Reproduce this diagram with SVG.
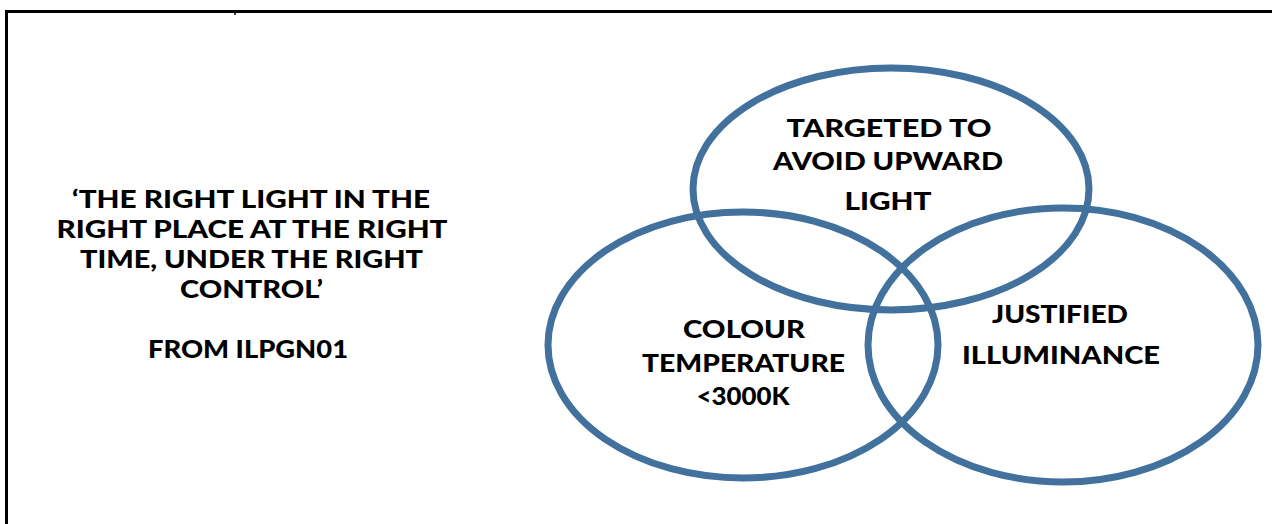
<svg xmlns="http://www.w3.org/2000/svg" width="1272" height="524" viewBox="0 0 1272 524">
<style>
.frame{fill:none;stroke:#000;stroke-width:3}
.ring{fill:none;stroke:#41719C;stroke-width:7}
.t{font-family:Lato,"Liberation Sans",sans-serif;font-weight:900;font-size:25px;fill:#000;text-anchor:middle}
.q{font-size:24.5px}
</style>
<rect width="1272" height="524" fill="#fff"/>
<g id="frame">
<path class="frame" d="M6.5 524 V11.5 H1272"/>
<line x1="235" y1="13" x2="235" y2="15" stroke="#000" stroke-width="1.5"/>
</g>
<g id="quote">
<text class="t q" x="251" y="208" textLength="358" lengthAdjust="spacingAndGlyphs">‘THE RIGHT LIGHT IN THE</text>
<text class="t q" x="252" y="238" textLength="391" lengthAdjust="spacingAndGlyphs">RIGHT PLACE AT THE RIGHT</text>
<text class="t q" x="251.5" y="268" textLength="343" lengthAdjust="spacingAndGlyphs">TIME, UNDER THE RIGHT</text>
<text class="t q" x="251.5" y="298" textLength="143" lengthAdjust="spacingAndGlyphs">CONTROL’</text>
<text class="t" x="248" y="358" textLength="200" lengthAdjust="spacingAndGlyphs">FROM ILPGN01</text>
</g>
<g id="targeted">
<ellipse class="ring" cx="891" cy="189" rx="198" ry="121"/>
<text class="t" x="889" y="137" textLength="205" lengthAdjust="spacingAndGlyphs">TARGETED TO</text>
<text class="t" x="888" y="170" textLength="230" lengthAdjust="spacingAndGlyphs">AVOID UPWARD</text>
<text class="t" x="888" y="210" textLength="87" lengthAdjust="spacingAndGlyphs">LIGHT</text>
</g>
<g id="colour">
<ellipse class="ring" cx="743" cy="345" rx="195" ry="133"/>
<text class="t" x="744" y="338" textLength="122" lengthAdjust="spacingAndGlyphs">COLOUR</text>
<text class="t" x="743.5" y="372" textLength="203" lengthAdjust="spacingAndGlyphs">TEMPERATURE</text>
<text class="t" x="743" y="405" textLength="93" lengthAdjust="spacingAndGlyphs">&lt;3000K</text>
</g>
<g id="justified">
<ellipse class="ring" cx="1063" cy="345" rx="195" ry="137"/>
<text class="t" x="1060" y="323" textLength="136" lengthAdjust="spacingAndGlyphs">JUSTIFIED</text>
<text class="t" x="1061" y="364" textLength="198" lengthAdjust="spacingAndGlyphs">ILLUMINANCE</text>
</g>
</svg>
